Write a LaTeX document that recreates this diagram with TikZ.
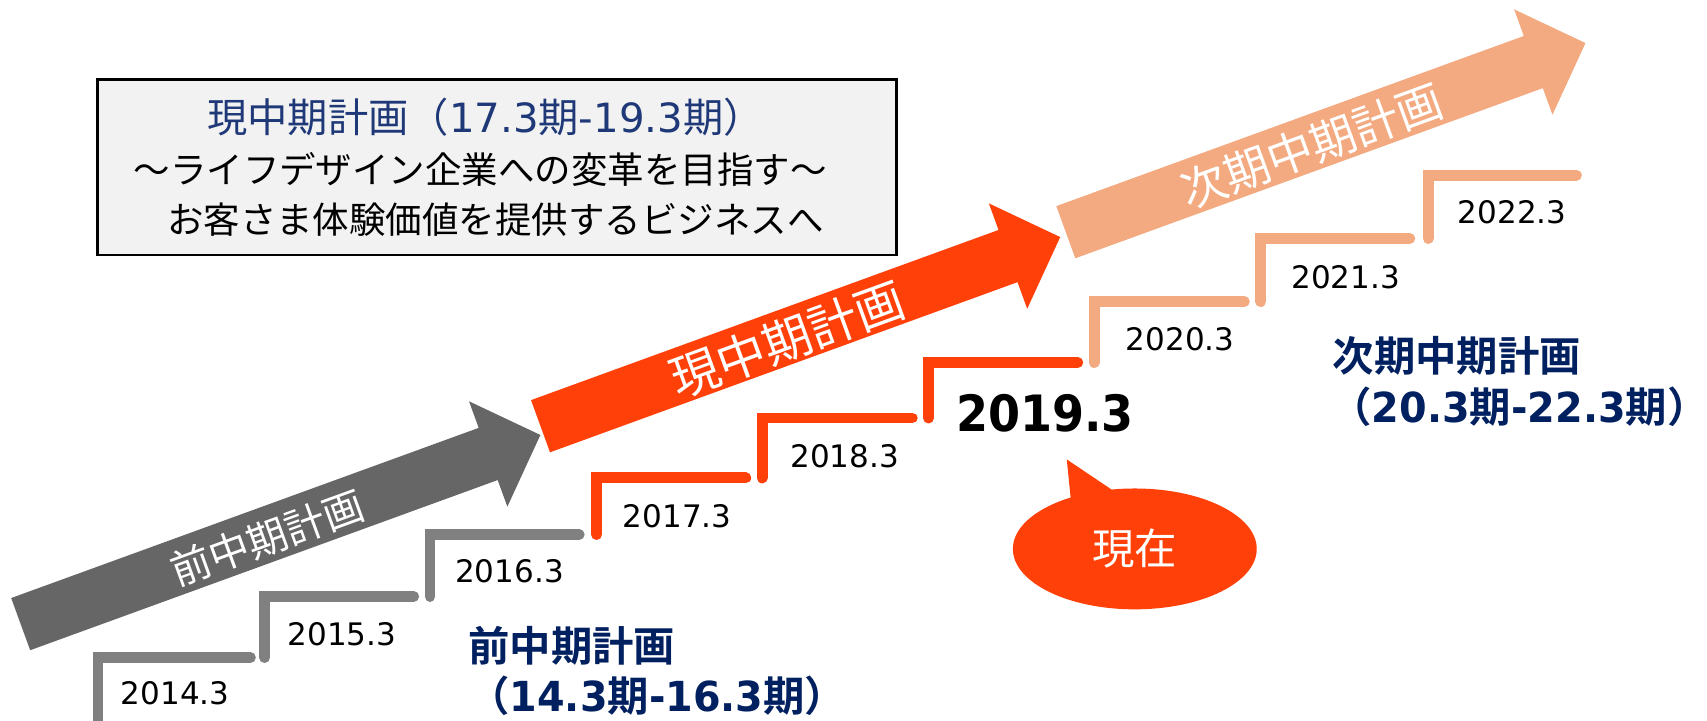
\documentclass[tikz,border=0pt]{standalone}
\usepackage{fontspec}
\setmainfont{DejaVu Sans}
\newfontfamily\jp{Noto Sans CJK JP}[BoldFont={Noto Sans CJK JP Bold}]
\newfontfamily\numc{DejaVu Sans}[FakeStretch=0.92]
\newfontfamily\numd{DejaVu Sans}[FakeStretch=0.96]
\usetikzlibrary{shapes.geometric}
\definecolor{arrgray}{RGB}{102,102,102}
\definecolor{stepgray}{RGB}{128,128,128}
\definecolor{curred}{RGB}{255,64,8}
\definecolor{nextor}{RGB}{244,170,128}
\definecolor{navy}{RGB}{0,32,96}
\definecolor{titlenavy}{RGB}{31,56,120}
\definecolor{boxfill}{RGB}{242,242,242}
\tikzset{
  blockarrow/.pic={\fill[pic actions] (0,-25.5) -- (457,-25.5) -- (457,-51.5) -- (508,0) -- (457,51.5) -- (457,25.5) -- (0,25.5) -- cycle;},
  arrowlabel/.style={text=white, rotate=20, inner sep=0pt},
  stair/.style={line width=10pt, line cap=round, line join=miter},
  yearlabel/.style={inner sep=0pt, font=\fontsize{28.5}{30}\selectfont},
  planlabel/.style={inner sep=0pt, anchor=west, text=navy, font=\fontsize{38}{46}\selectfont\bfseries},
  boxline/.style={inner sep=0pt},
}
\begin{document}
\begin{tikzpicture}[x=1pt,y=-1pt]
\useasboundingbox (0,0) rectangle (1568,662);
\fill[white] (0,0) rectangle (1568,662);

% big arrows
\pic[fill=arrgray, rotate=20] at (19,573.3) {blockarrow};
\pic[fill=curred, rotate=20] at (496.5,391.5) {blockarrow};
\pic[fill=nextor, rotate=20] at (979,213.3) {blockarrow};
\node[arrowlabel, font=\fontsize{37}{40}\selectfont\jp] (prevarrowtext) at (245.5,494) {前中期計画};
\node[arrowlabel, font=\fontsize{45}{48}\selectfont\jp] (curarrowtext) at (723,312) {現中期計画};
\node[arrowlabel, font=\fontsize{42}{45}\selectfont\jp] (nextarrowtext) at (1205,134) {次期中期計画};

% plan box
\node[draw=black, line width=2.5pt, fill=boxfill, minimum width=734pt, minimum height=161pt, inner sep=0pt, anchor=north west] (planbox) at (88,72) {};
\node[boxline, text=titlenavy, font=\fontsize{37}{40}\selectfont] (boxtitle) at (446,108) {{\jp 現中期計画（}17.3{\jp 期}-19.3{\jp 期）}};
\node[boxline, font=\fontsize{33.5}{36}\selectfont\jp] (boxgoal) at (441,156) {～ライフデザイン企業への変革を目指す～};
\node[boxline, font=\fontsize{33.5}{36}\selectfont\jp] (boxbiz) at (455,202) {お客さま体験価値を提供するビジネスへ};

% stairs
\draw[stair, stepgray] (90,670) -- (90,604) -- (230,604);
\draw[stair, stepgray] (243,604) -- (243,548) -- (380,548);
\draw[stair, stepgray] (395,548) -- (395,491) -- (532,491);
\draw[stair, curred] (548,491) -- (548,439) -- (685,439);
\draw[stair, curred] (700,439) -- (700,384) -- (838,384);
\draw[stair, curred] (853,384) -- (853,333) -- (990,333);
\draw[stair, nextor] (1005,333) -- (1005,277) -- (1143,277);
\draw[stair, nextor] (1158,277) -- (1158,219) -- (1295,219);
\draw[stair, nextor] (1312,219) -- (1312,161) -- (1448,161);

% year labels
\node[yearlabel] (y14) at (161,636.5) {2014.3};
\node[yearlabel] (y15) at (314,583) {2015.3};
\node[yearlabel] (y16) at (468,525) {2016.3};
\node[yearlabel] (y17) at (622,474) {2017.3};
\node[yearlabel] (y18) at (776,419) {2018.3};
\node[inner sep=0pt, font=\fontsize{46}{50}\selectfont\numc\bfseries] (y19) at (960,379.5) {2019.3};
\node[yearlabel] (y20) at (1084,311.5) {2020.3};
\node[yearlabel] (y21) at (1236,254.5) {2021.3};
\node[yearlabel] (y22) at (1389,195.3) {2022.3};

% speech bubble
\fill[curred] (983.6,458.5) -- (979.9,422) -- (1022.7,450.8) -- (1005,478) -- cycle;
\node[ellipse, fill=curred, minimum width=224pt, minimum height=111pt, inner sep=0pt, text=white, font=\fontsize{39}{42}\selectfont\jp] (nowbubble) at (1042.4,504.2) {現在};

% plan period labels
\node[planlabel] (prevtitle) at (430,593) {{\jp 前中期計画}};
\node[planlabel] (prevterm) at (430,639) {{\jp （}{\numd 14.3}{\jp 期}{\numd -16.3}{\jp 期）}};
\node[planlabel] (nexttitle) at (1224,327) {{\jp 次期中期計画}};
\node[planlabel] (nextterm) at (1222,374) {{\jp （}{\numd 20.3}{\jp 期}{\numd -22.3}{\jp 期）}};
\end{tikzpicture}
\end{document}
